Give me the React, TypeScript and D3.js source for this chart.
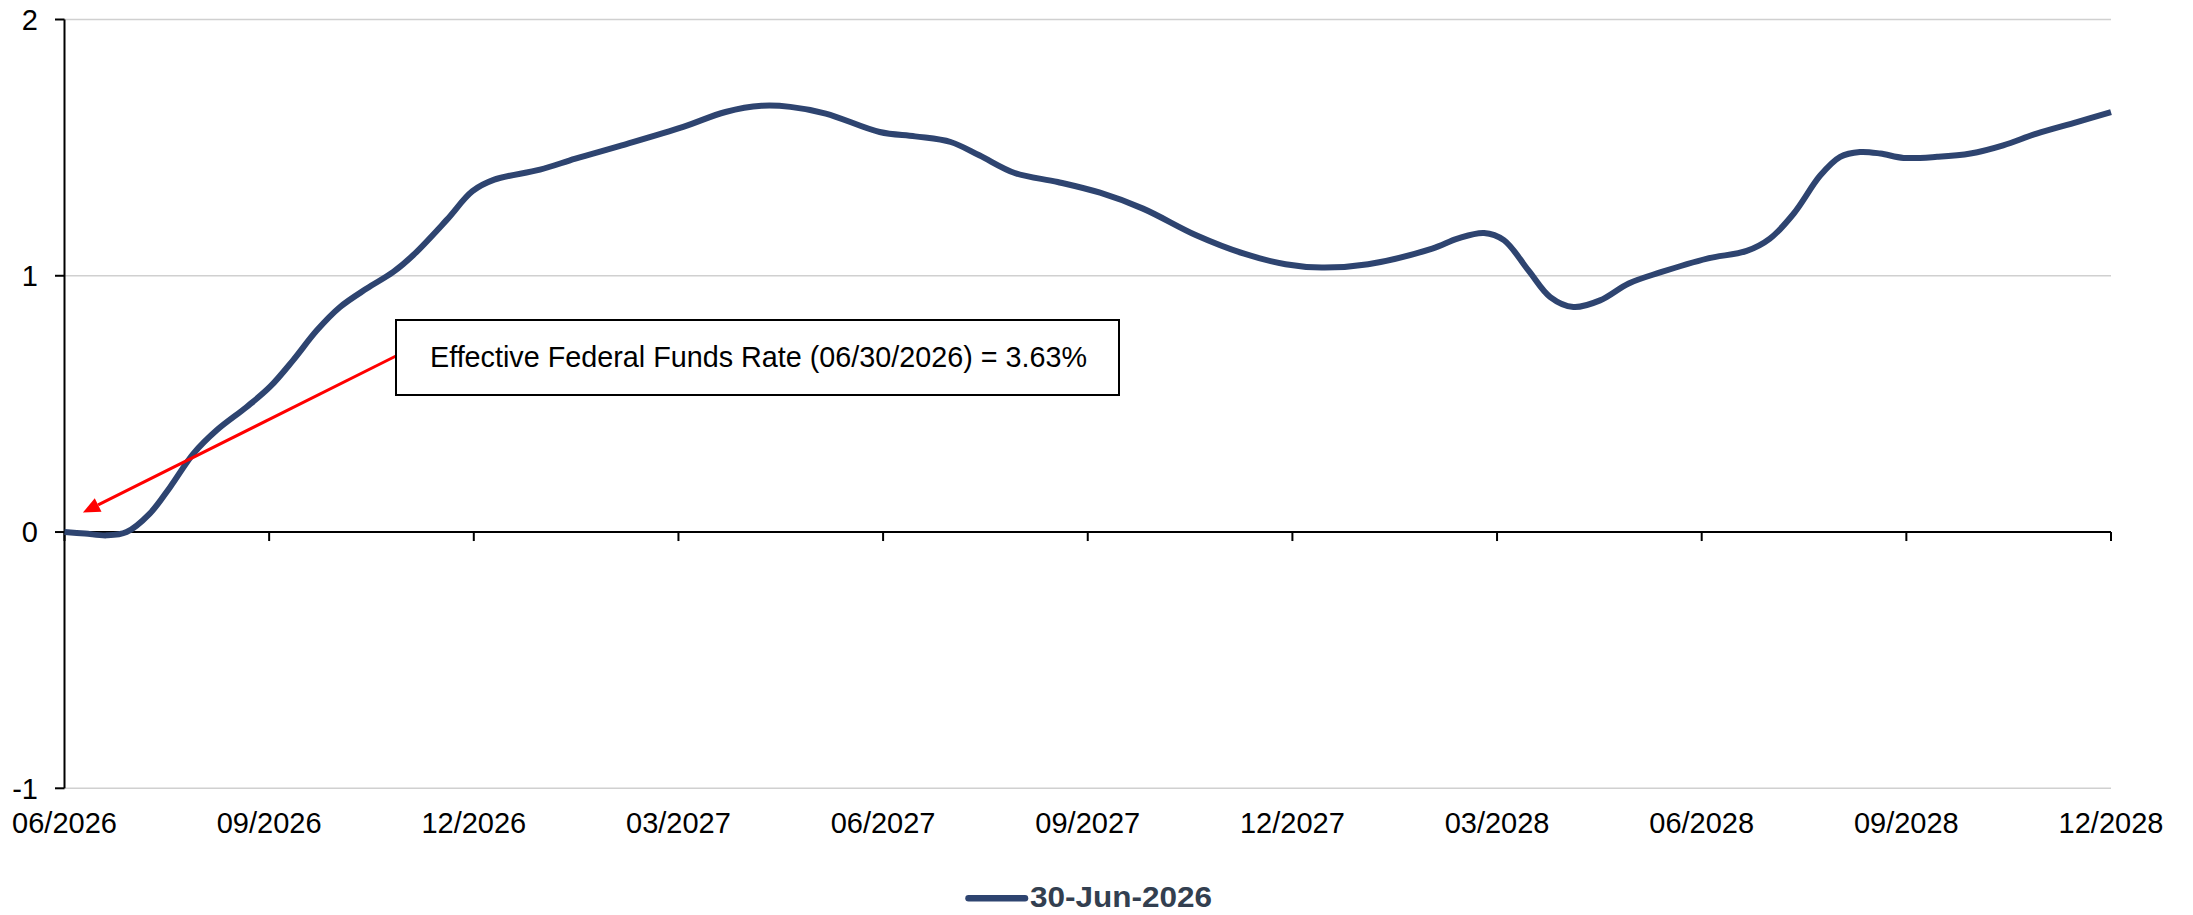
import React from "react";
import * as d3 from "d3";

// Month offsets from 06/2026 and values
const months = [0, 0.3, 0.62, 0.91, 1.25, 1.55, 1.89, 2.23, 2.67, 3.01, 3.35, 3.7, 4.04, 4.43, 4.82, 5.11, 5.6, 5.98, 6.3, 6.97, 7.49, 8.17, 9.07, 9.69, 10.22, 10.64, 11.16, 11.95, 12.47, 12.99, 13.41, 13.93, 14.56, 15.18, 15.81, 16.59, 17.28, 17.9, 18.43, 19.11, 20.05, 20.42, 20.81, 21.1, 21.46, 21.78, 22.12, 22.51, 22.93, 23.39, 24.08, 24.66, 25.0, 25.35, 25.74, 26.03, 26.32, 26.62, 26.96, 27.45, 27.94, 28.42, 28.91, 29.5, 30.0];
const values = [0, -0.006, -0.013, 0.0, 0.072, 0.176, 0.306, 0.397, 0.488, 0.566, 0.67, 0.787, 0.878, 0.95, 1.015, 1.08, 1.217, 1.33, 1.375, 1.414, 1.457, 1.509, 1.581, 1.639, 1.663, 1.659, 1.633, 1.561, 1.544, 1.522, 1.47, 1.401, 1.366, 1.324, 1.262, 1.158, 1.087, 1.045, 1.032, 1.045, 1.106, 1.145, 1.167, 1.139, 1.021, 0.917, 0.878, 0.904, 0.97, 1.013, 1.067, 1.097, 1.145, 1.243, 1.392, 1.464, 1.483, 1.477, 1.46, 1.464, 1.477, 1.509, 1.555, 1.6, 1.639];

const xTickMonths = [0, 3, 6, 9, 12, 15, 18, 21, 24, 27, 30];
const xTickLabels = ["06/2026", "09/2026", "12/2026", "03/2027", "06/2027", "09/2027", "12/2027", "03/2028", "06/2028", "09/2028", "12/2028"];
const yTicks = [-1, 0, 1, 2];

const seriesName = "30-Jun-2026";
const annotationText = "Effective Federal Funds Rate (06/30/2026) = 3.63%";
const annotationTarget = { month: 0.27, value: 0.076 };

const W = 2193;
const H = 915;
const FONT = "'Liberation Sans', Arial, Helvetica, sans-serif";
const LINE_COLOR = "#2E4470";

export default function App() {
  const x = d3.scaleLinear().domain([0, 30]).range([64.5, 2111]);
  const y = d3.scaleLinear().domain([-1, 2]).range([788.3, 19.5]);

  const pts: [number, number][] = months.map((m, i) => [m, values[i]]);
  const line = d3
    .line<[number, number]>()
    .x((d) => x(d[0]))
    .y((d) => y(d[1]))
    .curve(d3.curveCatmullRom.alpha(0.5));

  const x0 = x(0);
  const x1 = x(30);
  const yZero = y(0);

  // annotation arrow
  const box = { x: 396, y: 320, w: 723, h: 75 };
  const start = { x: box.x, y: 356 };
  const tip = { x: x(annotationTarget.month), y: y(annotationTarget.value) };
  const dx = tip.x - start.x;
  const dy = tip.y - start.y;
  const len = Math.sqrt(dx * dx + dy * dy);
  const ux = dx / len;
  const uy = dy / len;
  const headLen = 17;
  const headHalf = 7.5;
  const bx = tip.x - ux * headLen;
  const by = tip.y - uy * headLen;
  const p1 = [bx + -uy * headHalf, by + ux * headHalf];
  const p2 = [bx - -uy * headHalf, by - ux * headHalf];

  return (
    <svg
      width={W}
      height={H}
      viewBox={`0 0 ${W} ${H}`}
      style={{ position: "absolute", left: 0, top: 0, background: "#fff" }}
    >
      <rect x={0} y={0} width={W} height={H} fill="#fff" />
      {/* gridlines */}
      {yTicks
        .filter((t) => t !== 0)
        .map((t) => (
          <line key={"g" + t} x1={x0} x2={x1} y1={y(t)} y2={y(t)} stroke="#D0D0D0" strokeWidth={1.5} />
        ))}
      {/* y axis */}
      <line x1={x0} x2={x0} y1={y(2)} y2={y(-1)} stroke="#000" strokeWidth={2} />
      {yTicks.map((t) => (
        <g key={"yt" + t}>
          <line x1={x0 - 9.5} x2={x0} y1={y(t)} y2={y(t)} stroke="#000" strokeWidth={2} />
          <text x={38} y={y(t) + 10.3} textAnchor="end" fontFamily={FONT} fontSize={29} fill="#000">
            {t}
          </text>
        </g>
      ))}
      {/* zero axis */}
      <line x1={x0} x2={x1} y1={yZero} y2={yZero} stroke="#000" strokeWidth={2} />
      {xTickMonths.map((m, i) => (
        <g key={"xt" + m}>
          <line x1={x(m)} x2={x(m)} y1={yZero} y2={yZero + 9} stroke="#000" strokeWidth={2} />
          <text x={x(m)} y={833} textAnchor="middle" fontFamily={FONT} fontSize={29} fill="#000">
            {xTickLabels[i]}
          </text>
        </g>
      ))}
      {/* series */}
      <path d={line(pts) || ""} fill="none" stroke={LINE_COLOR} strokeWidth={6} strokeLinejoin="round" />
      {/* annotation */}
      <line x1={start.x} y1={start.y} x2={bx} y2={by} stroke="#FF0000" strokeWidth={3} />
      <polygon points={`${tip.x},${tip.y} ${p1[0]},${p1[1]} ${p2[0]},${p2[1]}`} fill="#FF0000" />
      <rect x={box.x} y={box.y} width={box.w} height={box.h} fill="#fff" stroke="#000" strokeWidth={2} />
      <text x={430} y={366.7} fontFamily={FONT} fontSize={28.7} fill="#000" textLength={657} lengthAdjust="spacingAndGlyphs">
        {annotationText}
      </text>
      {/* legend */}
      <line x1={968.5} x2={1025} y1={898.3} y2={898.3} stroke={LINE_COLOR} strokeWidth={6.5} strokeLinecap="round" />
      <text x={1030} y={906.7} fontFamily={FONT} fontSize={29} fontWeight="bold" fill="#333F50" textLength={182} lengthAdjust="spacingAndGlyphs">
        {seriesName}
      </text>
    </svg>
  );
}
